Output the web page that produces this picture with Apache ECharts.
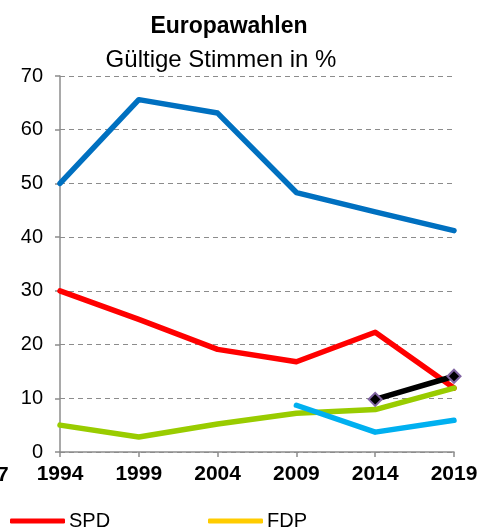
<!DOCTYPE html>
<html>
<head>
<meta charset="utf-8">
<script src="https://cdn.jsdelivr.net/npm/echarts@6/dist/echarts.min.js"></script>
<style>
html,body{margin:0;padding:0;background:#fff;}
#c{width:492px;height:529px;}
</style>
</head>
<body>
<div id="c"></div>
<script>
var years = ['1994','1999','2004','2009','2014','2019'];
var yTicks = [0,10,20,30,40,50,60,70];
var csu   = [50.0, 65.6, 63.1, 48.3, 44.7, 41.2];
var spd   = [30.0, 24.7, 19.1, 16.8, 22.3, 11.9];
var gruene= [5.0, 2.8, 5.2, 7.2, 7.9, 11.9];
var afd   = [null, null, null, 8.7, 3.7, 5.9];
var fw    = [null, null, null, null, 9.8, 14.1];
var fdp   = [null, null, null, null, null, null];

var FONT = 'Liberation Sans, Arial, sans-serif';
var chart = echarts.init(document.getElementById('c'));
function line(name, data, color, extra){
  var s = {name:name, type:'line', data:data, symbol:'none', connectNulls:false,
    lineStyle:{color:color, width:5.5, cap:'round', join:'round'}, itemStyle:{color:color}, z:2, animation:false};
  if(extra){ for(var k in extra) s[k]=extra[k]; }
  return s;
}
chart.setOption({
  animation:false,
  title:[
    {text:'Europawahlen', left:224, top:10, textAlign:'center',
     textStyle:{fontFamily:FONT, fontSize:23, fontWeight:'bold', color:'#000'}},
    {text:'Gültige Stimmen in %', left:216, top:43, textAlign:'center',
     textStyle:{fontFamily:FONT, fontSize:24, fontWeight:'normal', color:'#000'}}
  ],
  grid:{left:60, right:38, top:76, bottom:77, containLabel:false},
  legend:[
    {data:['SPD'], left:10, top:511, padding:0, itemWidth:55, itemHeight:5, itemGap:10, icon:'roundRect',
     textStyle:{fontFamily:FONT, fontSize:20, color:'#000', padding:[0,0,0,-1]}},
    {data:['FDP'], left:208, top:511, padding:0, itemWidth:55, itemHeight:5, itemGap:10, icon:'roundRect',
     textStyle:{fontFamily:FONT, fontSize:20, color:'#000', padding:[0,0,0,-1]}}
  ],
  xAxis:{type:'category', data:years, boundaryGap:false,
    axisLine:{lineStyle:{color:'#8c8c8c', width:1.5}},
    axisTick:{show:true, length:5, lineStyle:{color:'#8c8c8c', width:1.5}},
    axisLabel:{fontFamily:FONT, fontSize:21, fontWeight:'bold', color:'#000', margin:12}},
  yAxis:{type:'value', min:yTicks[0], max:yTicks[yTicks.length-1], interval:10,
    axisLine:{show:true, lineStyle:{color:'#8c8c8c', width:1.5}},
    axisTick:{show:true, length:5, lineStyle:{color:'#8c8c8c', width:1.5}},
    axisLabel:{fontFamily:FONT, fontSize:20, color:'#000', margin:17},
    splitLine:{show:true, lineStyle:{color:'#8c8c8c', type:[5,4], width:1}}},
  graphic:[
    {type:'text', left:-3, top:465, style:{text:'7', fontFamily:FONT, fontSize:21, fontWeight:'bold', fill:'#000'}}
  ],
  series:[
    line('CSU', csu, '#0070c0'),
    line('SPD', spd, '#ff0000'),
    line('Grüne', gruene, '#99cc00'),
    line('AfD', afd, '#00b0f0'),
    line('FDP', fdp, '#ffcc00'),
    line('Freie Wähler', fw, '#000000', {symbol:'diamond', symbolSize:13, showSymbol:true,
      itemStyle:{color:'#000', borderColor:'#8064a2', borderWidth:2}})
  ]
});
</script>
</body>
</html>
